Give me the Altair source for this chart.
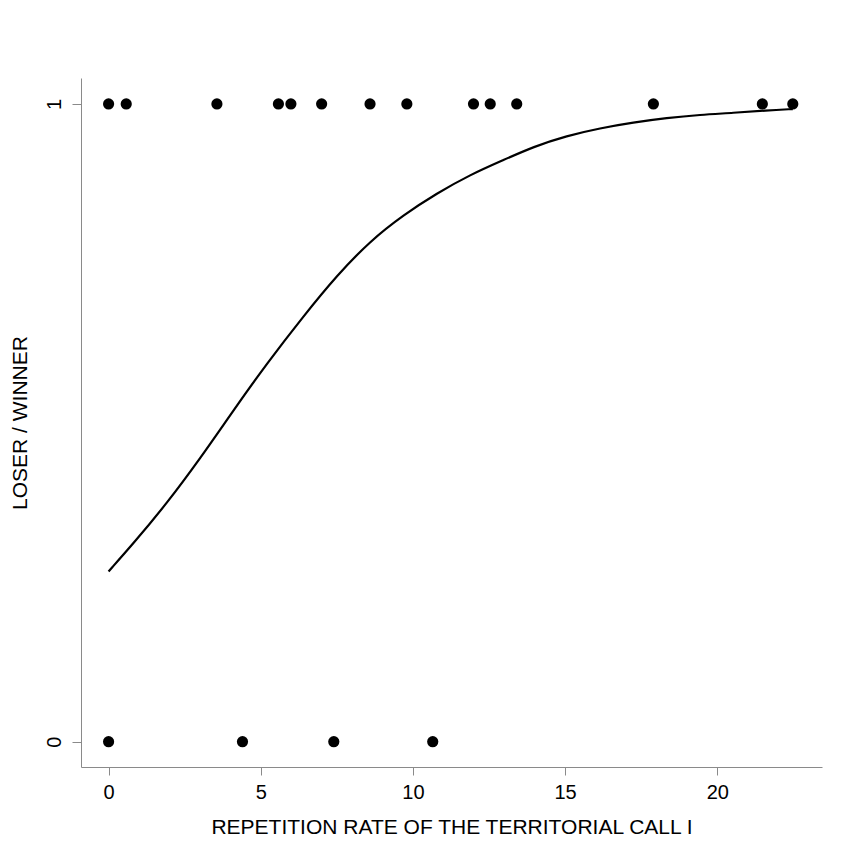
import altair as alt
import pandas as pd

# Observed outcomes (1 = winner, 0 = loser) vs repetition rate
winner_x = [0, 0.58, 3.56, 5.58, 5.99, 7.00, 8.59, 9.80, 11.99, 12.54, 13.41, 17.90, 21.48, 22.48]
loser_x = [0, 4.40, 7.40, 10.65]

# Fitted logistic curve
curve_x = [0, 0.82, 1.92, 3.01, 4.11, 5.20, 6.40, 7.50, 8.59, 9.69, 10.79, 11.88,
           12.97, 13.96, 15.05, 16.15, 17.24, 18.34, 19.43, 20.53, 21.62, 22.48]
curve_y = [0.267, 0.311, 0.374, 0.444, 0.520, 0.593, 0.667, 0.731, 0.785, 0.826, 0.860,
           0.889, 0.912, 0.933, 0.950, 0.962, 0.971, 0.978, 0.983, 0.986, 0.990, 0.992]

points = pd.DataFrame({
    "x": winner_x + loser_x,
    "y": [1] * len(winner_x) + [0] * len(loser_x),
})
curve = pd.DataFrame({"x": curve_x, "y": curve_y})

FONT = "Liberation Sans"

xscale = alt.Scale(domain=[-0.906, 23.44], nice=False, zero=False)
yscale = alt.Scale(domain=[-0.0397, 1.0407], nice=False, zero=False)

xaxis = alt.Axis(
    title="REPETITION RATE OF THE TERRITORIAL CALL I",
    values=[0, 5, 10, 15, 20], format="d",
    grid=False, domainColor="#8a8a8a", tickColor="#8a8a8a", tickSize=8,
    labelFont=FONT, labelFontSize=20, labelColor="black", labelPadding=7,
    titleFont=FONT, titleFontSize=21, titleFontWeight="normal", titleColor="black",
    titlePadding=14,
)
yaxis = alt.Axis(
    title="LOSER / WINNER",
    values=[0, 1], format="d",
    grid=False, domainColor="#8a8a8a", tickColor="#8a8a8a", tickSize=9,
    labelFont=FONT, labelFontSize=20, labelColor="black", labelAngle=-90,
    labelPadding=8, labelAlign="center", labelBaseline="bottom",
    titleFont=FONT, titleFontSize=21, titleFontWeight="normal", titleColor="black",
    titlePadding=14,
)

pts = alt.Chart(points).mark_circle(size=125, color="black", opacity=1).encode(
    x=alt.X("x:Q", scale=xscale, axis=xaxis),
    y=alt.Y("y:Q", scale=yscale, axis=yaxis),
)
line = alt.Chart(curve).mark_line(color="black", strokeWidth=2.2, interpolate="basis").encode(
    x=alt.X("x:Q", scale=xscale),
    y=alt.Y("y:Q", scale=yscale),
)

chart = (line + pts).properties(
    width=741, height=689,
    autosize=alt.AutoSizeParams(type="none"),
    padding={"left": 81, "top": 78, "right": 23, "bottom": 81},
    background="white",
).configure_view(stroke=None)

chart.save("out.html", embed_options={"renderer": "svg", "actions": False})
